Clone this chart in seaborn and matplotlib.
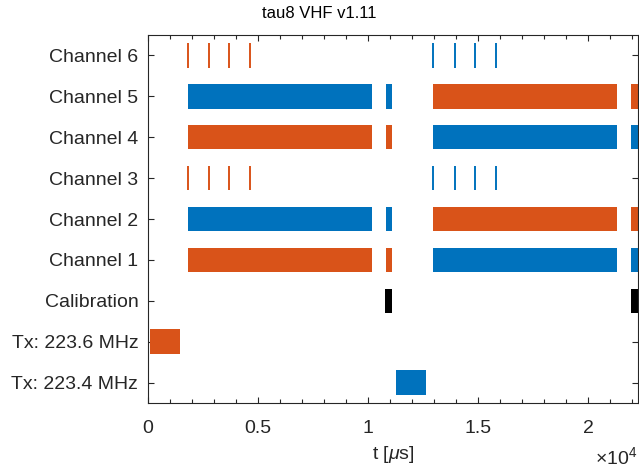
import matplotlib
matplotlib.use("Agg")
import matplotlib.pyplot as plt
from matplotlib.ticker import MultipleLocator, FuncFormatter
import seaborn as sns

# ---- data ----
categories = ["Tx: 223.4 MHz", "Tx: 223.6 MHz", "Calibration",
              "Channel 1", "Channel 2", "Channel 3",
              "Channel 4", "Channel 5", "Channel 6"]

# block segments: (row, start [us], end [us], colour key)
seg_rows   = ["Channel 1"] * 4 + ["Channel 2"] * 4 + ["Channel 4"] * 4 + ["Channel 5"] * 4 \
             + ["Calibration"] * 2 + ["Tx: 223.6 MHz", "Tx: 223.4 MHz"]
seg_start  = [1800, 10800, 12950, 21950] * 4 + [10770, 21920] + [104, 11255]
seg_end    = [10150, 11100, 21310, 22400] * 4 + [11100, 22400] + [1452, 12602]
seg_colour = ["o", "o", "b", "b", "b", "b", "o", "o",
              "o", "o", "b", "b", "b", "b", "o", "o",
              "k", "k", "o", "b"]

# pulse markers on Channel 3 and Channel 6
pulse_rows   = ["Channel 3"] * 8 + ["Channel 6"] * 8
pulse_t      = [1830, 2770, 3690, 4630, 12960, 13930, 14840, 15790] * 2
pulse_colour = ["o"] * 4 + ["b"] * 4 + ["o"] * 4 + ["b"] * 4

palette = {"b": "#0072BD", "o": "#D95319", "k": "#000000"}

# ---- style ----
sns.set_theme(style="white")
plt.rcParams["font.family"] = ["Liberation Sans", "DejaVu Sans"]
plt.rcParams["mathtext.fontset"] = "custom"
plt.rcParams["mathtext.rm"] = "Liberation Sans"
plt.rcParams["mathtext.it"] = "Liberation Sans:italic"

fig = plt.figure(figsize=(6.39, 4.68), dpi=100)
ax = fig.add_axes([148 / 639, 1 - 403 / 468, 490 / 639, 368 / 468])

ypos = {c: i + 1 for i, c in enumerate(categories)}
bar_h = 0.6

for r, s, e, c in zip(seg_rows, seg_start, seg_end, seg_colour):
    ax.barh(ypos[r], e - s, left=s, height=bar_h, color=palette[c],
            edgecolor="none", linewidth=0)

for r, t, c in zip(pulse_rows, pulse_t, pulse_colour):
    ax.vlines(t, ypos[r] - bar_h / 2, ypos[r] + bar_h / 2,
              color=palette[c], linewidth=1.4)

ax.set_xlim(0, 22250)
ax.set_ylim(0.5, 9.5)
ax.set_yticks([ypos[c] for c in categories])
ax.set_yticklabels(categories)

ax.xaxis.set_major_locator(MultipleLocator(5000))
ax.xaxis.set_minor_locator(MultipleLocator(1000))
ax.xaxis.set_major_formatter(FuncFormatter(lambda v, p: f"{v / 1e4:g}"))

tick_col = "#262626"
for sp in ax.spines.values():
    sp.set_visible(True)
    sp.set_color(tick_col)
    sp.set_linewidth(0.8)

ax.tick_params(axis="both", which="major", direction="in", length=4.5,
               width=0.8, color=tick_col, labelcolor=tick_col,
               labelsize=14, top=True, right=True, bottom=True, left=True)
ax.tick_params(axis="y", which="major", pad=7)
ax.tick_params(axis="x", which="major", pad=12)
ax.tick_params(axis="x", which="minor", direction="in", length=3,
               width=0.8, color=tick_col, top=True, bottom=True)

ax.set_xlabel(r"t [$\mu$s]", fontsize=14, color=tick_col, labelpad=5)
fig.text(0.5, 1 - 14 / 468, "tau8 VHF v1.11", ha="center", va="center",
         fontsize=12, color="#000000")
fig.text(637 / 639, 1 - 457 / 468, r"$\times10^{4}$", ha="right", va="center",
         fontsize=14, color=tick_col)

fig.savefig("out.png", dpi=100)
